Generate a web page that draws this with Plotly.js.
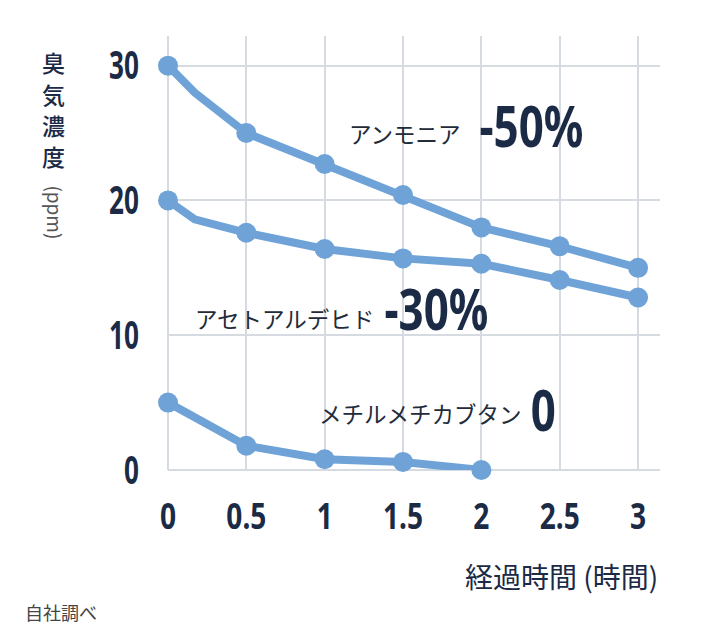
<!DOCTYPE html>
<html>
<head>
<meta charset="utf-8">
<script src="https://cdn.plot.ly/plotly-3.0.1.min.js"></script>
<style>
  body { margin: 0; background: #fff; }
  #chart { width: 720px; height: 644px; }
</style>
</head>
<body>
<div id="chart"></div>
<script>
// hours elapsed
var timeA = [0, 0.17, 0.5, 1, 1.5, 2, 2.5, 3];
var ammonia = [30, 28, 25, 22.7, 20.4, 18, 16.6, 15];
var acetaldehyde = [20, 18.6, 17.6, 16.4, 15.7, 15.3, 14.1, 12.8];
var timeM = [0, 0.5, 1, 1.5, 2];
var mercaptan = [5, 1.8, 0.8, 0.6, 0];

var xTicks = [0, 0.5, 1, 1.5, 2, 2.5, 3];
var yTicks = [0, 10, 20, 30];
var yTitleChars = ["臭", "気", "濃", "度"];

var blue = "#6fa3d8";
var navy = "#1b2a45";
var numFont = "Noto Sans, DejaVu Sans, sans-serif";
var jpFont = "Noto Sans CJK JP, sans-serif";

// no marker on the 0.17h bend point
function markSizes(xs) {
  return xs.map(function (t) { return t === 0.17 ? 0 : 20; });
}

function series(xs, ys) {
  return {
    x: xs,
    y: ys,
    type: "scatter",
    mode: "lines+markers",
    line: { color: blue, width: 8 },
    marker: { color: blue, size: markSizes(xs), opacity: 1, line: { width: 0 } },
    cliponaxis: false,
    hoverinfo: "skip"
  };
}

var data = [
  series(timeA, ammonia),
  series(timeA, acetaldehyde),
  series(timeM, mercaptan)
];

function label(txt, x, y) {
  return { text: txt, x: x, y: y, xref: "x", yref: "y", xanchor: "right", yanchor: "middle",
    showarrow: false, font: { family: jpFont, size: 22.5, color: "#222b3a" } };
}
function bigNum(txt, x, y) {
  return { text: txt, x: x, y: y, xref: "x", yref: "y", xanchor: "center", yanchor: "middle",
    showarrow: false, font: { family: numFont, size: 57, color: navy, weight: "bold" } };
}

var annotations = [
  label("アンモニア", 1.883, 25.0),
  bigNum("-50%", 2.317, 25.6),
  label("アセトアルデヒド", 1.328, 11.3),
  bigNum("-30%", 1.714, 12.0),
  label("メチルメチカブタン", 2.272, 4.2),
  bigNum("0", 2.394, 4.5),
  { text: "(ppm)", xref: "paper", yref: "paper", x: -0.228, y: 0.594, textangle: 90,
    xanchor: "center", yanchor: "middle", showarrow: false,
    font: { family: jpFont, size: 19, color: "#555" } },
  { text: "経過時間 (時間)", xref: "paper", yref: "paper", x: 1.0, y: -0.244,
    xanchor: "right", yanchor: "middle", showarrow: false,
    font: { family: jpFont, size: 28, color: navy } },
  { text: "自社調べ", xref: "paper", yref: "paper", x: -0.295, y: -0.327,
    xanchor: "left", yanchor: "middle", showarrow: false,
    font: { family: jpFont, size: 18, color: "#444" } }
];

// vertical y-axis title, one character per line
yTitleChars.forEach(function (ch, i) {
  annotations.push({ text: ch, xref: "paper", yref: "paper", x: -0.233, y: 0.94 - i * 0.0725,
    xanchor: "center", yanchor: "middle", showarrow: false,
    font: { family: jpFont, size: 23, color: navy, weight: 500 } });
});

var layout = {
  width: 720,
  height: 644,
  margin: { l: 168, r: 60, t: 36, b: 174 },
  paper_bgcolor: "#fff",
  plot_bgcolor: "#fff",
  showlegend: false,
  xaxis: {
    range: [0, 3.14],
    tickvals: xTicks,
    ticktext: xTicks.map(String),
    showgrid: true,
    gridcolor: "#d5dbe0",
    gridwidth: 2,
    zeroline: true,
    zerolinecolor: "#d5dbe0",
    zerolinewidth: 2,
    showline: false,
    ticks: "",
    ticklabelstandoff: 22,
    tickfont: { family: numFont, size: 36, color: navy, weight: "bold" }
  },
  yaxis: {
    range: [0, 32.2],
    tickvals: yTicks,
    showgrid: true,
    gridcolor: "#d5dbe0",
    gridwidth: 2,
    zeroline: true,
    zerolinecolor: "#d5dbe0",
    zerolinewidth: 2,
    showline: false,
    ticks: "",
    ticklabelstandoff: 28,
    tickfont: { family: numFont, size: 39, color: navy, weight: "bold" }
  },
  annotations: annotations
};

// squeeze the numbers horizontally, the original uses a condensed face
function condenseNumbers() {
  var texts = document.querySelectorAll("#chart svg text");
  texts.forEach(function (t) {
    if (!/^-?[0-9.]+%?$/.test(t.textContent.trim())) return;
    var k = 0.77;
    if (t.closest(".ytick")) k = 0.67;
    else if (t.closest(".xtick")) k = 0.78;
    var w = t.getComputedTextLength();
    t.setAttribute("textLength", (w * k).toFixed(1));
    t.setAttribute("lengthAdjust", "spacingAndGlyphs");
  });
}

Plotly.newPlot("chart", data, layout, { displayModeBar: false, staticPlot: true })
  .then(condenseNumbers);
</script>
</body>
</html>
